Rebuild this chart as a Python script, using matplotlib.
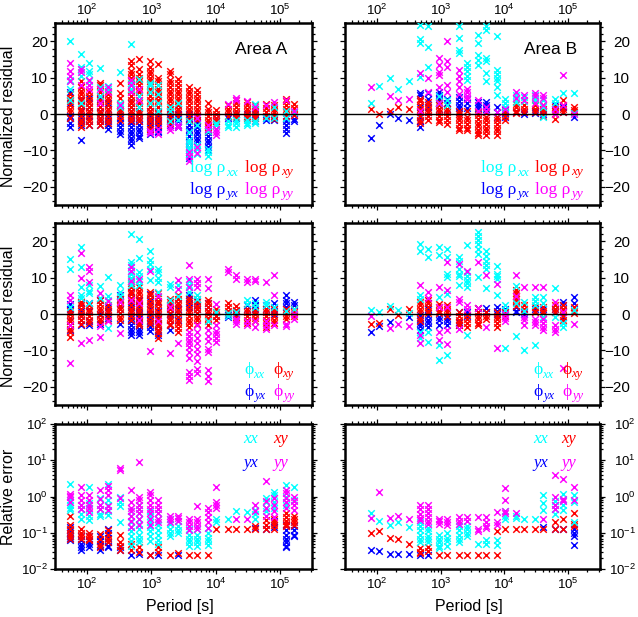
import matplotlib
matplotlib.use("Agg")
import matplotlib.pyplot as plt
from matplotlib.ticker import MultipleLocator, LogLocator, NullFormatter

plt.rcParams['font.family'] = ['Liberation Sans', 'DejaVu Sans']
plt.rcParams['mathtext.fontset'] = 'custom'
plt.rcParams['mathtext.rm'] = 'Liberation Sans'
plt.rcParams['mathtext.it'] = 'Liberation Sans:italic'
plt.rcParams['mathtext.bf'] = 'Liberation Sans:bold'

# ---------------- data ----------------
periods_A = [53.3, 80, 106.7, 160, 213.3, 320, 480, 640, 960, 1280, 1920, 2560, 3840,
             5120, 7680, 10240, 15360, 20480, 30720, 40960, 61440, 81920, 122880, 163840]
periods_B = [80, 106.7, 160, 213.3, 320, 480, 640, 960, 1280, 1920, 2560, 3840, 5120,
             7680, 10240, 15360, 20480, 30720, 40960, 61440, 81920, 122880]

components = ['xx', 'xy', 'yx', 'yy']
comp_colors = {'xx': '#00ffff', 'xy': '#ff0000', 'yx': '#0000ff', 'yy': '#ff00ff'}

# Area A, normalized residual of log rho
A_rho_xx = [[20, 9.5, 9, 7, 4], [16.5, 13, 12.5, 10.5, 3], [14, 12, 11, 9], [12.6, 7.5, 5],
            [7.8, 7], [11.6, 3, 2], [19.3, 8.5, 8, 7], [9.8, 5, 2], [8.5, 8, 6, 3], [8, 5.5, 3, 1],
            [2, 1, -2], [3, -1.5], [-2, -5, -7, -8, -9, -10, -11], [-3, -8.5, -9.5, -11],
            [-4.5, -9.5, -10.5, -11.5], [-2.5, -3], [-2, -3, -3.5], [-1.5, -2.5, -3.5],
            [-1.7, -2.5, -3], [2.9, -1.8, -2.5], [-1], [2, -1], [1, -1], [0.5]]
A_rho_xy = [[5.5, 4.5, 3.5, 2.5, 1.5, 0.5, -1],
            [9, 7.5, 6.5, 5.5, 4.5, 3.5, 2.5, 1.5, 0.5, -0.5, -1.5, -2.5, -3.5],
            [6, 5, 4, 3, 2, 1, 0, -1, -2, -3],
            [8.5, 8, 6, 5, 4, 3, 2, 1, 0, -1, -2, -3],
            [6.5, 5.5, 4.5, 3.5, 2.5, 1.5, 0.5, -0.5, -1.5, -2.5],
            [8.7, 5.7, 4.5, 2.5, 1.5, 0.5, -0.5, -1.5],
            [14.7, 13.5, 12, 11, 10, 9, 8, 7, 6, 5, 4, 3, 2, 1, 0, -1, -2],
            [15.2, 12.5, 11, 10, 9, 8, 7, 6, 5, 4, 3, 2, 1, 0, -1, -2],
            [14.5, 13, 12, 11, 10, 9, 8, 7, 6, 5, 4, 3, 2, 1, 0, -1, -2, -3, -4],
            [13.8, 10, 9, 8, 7, 6, 5, 4, 3, 2, 1, 0, -1, -2, -3],
            [12, 11, 9.5, 8.5, 7.5, 6.5, 5.5, 4.5, 3.5, 2.5, 1.5, 0.5, -0.5, -1.5, -2.5],
            [9.8, 8.5, 7.5, 6.5, 5.5, 4.5, 3.5, 2.5, 1.5, 0.5, -0.5],
            [7.5, 6.5, 5.5, 4.5, 3.5, 2.5, 1.5, 0.5, -0.5, -1.5],
            [6.6, 5.5, 4.5, 3.5, 2.5, 1.5, 0.5, -0.5, -1.5],
            [3, 1.5, 0.5, -0.5, -1.5, -2.5, -3.5, -4.5],
            [1.1, 0, -1, -2, -3], [2.5, 1.5, 0.5, -0.5], [3.8, 3, 2, 1, 0, -0.7],
            [3.4, 2.5, 1.5, 0.5, -0.5, -1], [2.5, 1.5, 0.5, -0.5, -1], [2.7, 1.7, 0.7, -0.5],
            [2.5, 1.5, 0.5, -0.5, -1.2], [4.3, 3.5, 2.5, 1.5, 0.5, -0.5], [2.7, 1.7, 0.7, -0.3]]
A_rho_yx = [[6, 3, -0.5, -1, -2.5, -3.5], [4, 2.5, 1, -1, -2, -3, -7.2], [4.5, 2, 1, -0.5, -2, -3],
            [4.3, 2, 0.5, -1, -2, -3], [3, 1.5, -1, -2, -3, -4], [1, -1, -2.5, -3.5, -4.5, -5.5],
            [3, 1, -0.5, -1.5, -2.5, -3.5, -4.5, -5.5, -6.5, -7.5, -8.5],
            [2, 0.5, -1, -2, -3, -4, -5, -6, -6.5],
            [1, -0.5, -1.5, -2.5, -3.5, -4.5, -5.5], [0.5, -0.5, -1.5, -2.5, -3.5, -4.5, -5],
            [1, 0, -1, -2, -3], [1.5, 0, -1, -2, -3, -3.5],
            [0, -1, -2, -3, -4, -5, -6, -7, -8, -9, -10, -11, -12],
            [-0.5, -1.5, -2.5, -3.5, -4.5, -5.5, -6.5, -7.5, -8.5],
            [-3, -4, -5, -6, -7, -8, -9, -10], [-1, -2], [-0.5, -1], [0, -1], [-0.7, 0],
            [0, -1, -2], [-1, -1.6], [-0.7, -1.7], [-1, -2, -3, -4, -5.3], [-1.2, -2]]
A_rho_yy = [[14, 12, 10.5, 9], [12.5, 11.5, 8], [9.5, 8, 7], [7, 3], [7.5, 6], [2.5],
            [9.5, 8, 6], [7, 4], [-5.3, -4.5], [-5.4, -4], [-4.3, -3.5], [-3.5, -3],
            [-10.4, -11.5, -13], [-9, -10.8, -1], [-4, -3], [-4, -4.8, -5.8], [2.7], [4.5, 4],
            [3.6], [2], [2.5], [3.4], [3.8], [1]]

# Area B, normalized residual of log rho
B_rho_xx = [[3.2], [7.8], [10], [7], [9], [24.6, 20.7, 19.5, 10.1], [24.2, 18.6, 12.9], [5, 3],
            [4, 2.5], [24.2, 20.9, 17.7, 16.8], [14, 13, 12, 10.5, 9.4],
            [21.8, 19.5, 16.3, 15, 13.5], [24.2, 23.2, 15.4, 14.5, 11.2, 9],
            [21.4, 12.2, 11, 10, 9, 7.5, 5.3], [4.3, 3, 2], [5.3, 4.3, 3.4], [4.8, 3.5],
            [5.3, 4.5, 3.9], [3.9, 2, -0.7], [4.3, 3], [5.7], [5.9, 0.2]]
B_rho_xy = [[1.3], [0], [1], [2], [1.3], [4.3, 3.5, 2.5, 1.5, 0.5, -0.5, -1.5, -2.5],
            [3.4, 2.5, 1.5, 0.5, -0.5, -1.7], [3.4, 2.5, 1.5, 0.5, -0.5, -1.5, -2.1],
            [2.5, 1.5, 0.5, -0.5, -1.5, -2.6], [1, 0, -0.7, -1.7, -2.7, -3.7, -4.4],
            [1, -0.7, -1.7, -2.7, -3.7, -4.4], [0.5, -0.3, -1.3, -2.3, -3.3, -4.3, -5.3, -5.8],
            [0.5, -0.7, -1.7, -2.7, -3.7, -4.7, -5.8], [-0.7, -1.7, -2.7, -3.7, -4.7, -5.8],
            [0.5, -0.5, -1.7], [2.9, 2, 1, 0.2], [2.5, 1.5, 0.5], [2.5, 1.5, 0.5],
            [2.5, 1.5, 0.5, -0.5], [2, 1, 0, -1.2], [3.9, 2.5, 1.5, 0.5], [2, 1.2, 0.6]]
B_rho_yx = [[-6.7], [-2.9], [0], [-1], [-1.7], [5.7, 5.2, 2, -0.7, -2, -3.5], [5.7, 4.3, 2, 0.5],
            [6.2, 5.3, 4.3, 3, 1.5], [4.3, 3, 1.5], [4.8, 3.5, 2.5, 1.6, 0.5], [4.3, 3, 1.6],
            [3.4, 2.5, 1.6], [3.4, 2.5, 1.5, 0.6], [2, 0.5, -0.7], [1.1, 0.2, -0.7], [0.6],
            [0.6, 0], [1, 0.3], [1, 0], [2.5, 1.5], [2, 0.5], [-0.7]]
B_rho_yy = [[7.5], [], [5], [3.8], [4.3], [11.2, 1], [9.9, 6], [15.4, 13.5, 11.7, 10.8, 7.5, 3],
            [20, 14.5, 13, 8, 6], [12.2, 10.5, 9, 7.6, 5.5], [7, 6, 5, 4.3], [4, 1], [2, 1],
            [0.5], [1.5], [6.2, 4.5], [5.3, 4], [5.7, 5, 3], [5.3, 4.5, 2.5], [1.5, 0],
            [10.8, 2.5], [0]]

# Area A, normalized residual of phase
A_phi_xx = [[15.3, 12.3, 2], [18.4, 13, 7.5, 5.2, 4.5], [7.9, 6.5, 5.7, 3], [7.8, 4.5],
            [10.2, 5, 4, -3.9], [7.9, 6, 5], [22.1, 14.3, 13.4, 12, 11, 10, 8.9, 8],
            [20.7, 15.4, 11.6, 10.5, 9, 8], [17.3, 14.8, 13.7, 12.5, 9.5],
            [12.5, 11.5, 10, 8.9, 6], [8.4, 7.5, 4], [7.9, 5], [9, 8, 7.5, 6], [5.2, 4.3], [-2],
            [0.5], [0.2, -0.5], [0.5], [3.8, 2.9], [3, 2], [3.4, 2.5], [2], [1], [1.5]]
A_phi_xy = [[1, 0, -1, -2, -3, -4, -5, -6.2], [3.4, 2.4, 1.4, 0.4, -0.6, -1.6, -2.6],
            [2.5, 1.5, 0.5, -0.5, -1.5, -2.5], [3.8, 2.8, 1.8, 0.8, -0.2, -1.2, -2.2],
            [2.5, 1.5, 0.5, -0.5, -1.5], [4.3, 3.3, 2.3, 1.3, 0.3, -0.7, -1.6],
            [9.8, 8.5, 7.5, 6.5, 5.5, 4.5, 3.5, 2.5, 1.5, 0.5, -0.5, -1.5],
            [7.5, 6.5, 5.5, 4.5, 3.5, 2.5, 1.5, 0.5, -0.5, -1.5, -2.5, -3],
            [6.2, 5.2, 4.2, 3.2, 2.2, 1.2, 0.2, -0.8, -1.8, -2.8],
            [5.7, 4.7, 3.7, 2.7, 1.7, 0.7, -0.3, -1.3, -2.3, -3.3, -4.3, -5.3, -6.7],
            [4.3, 3.3, 2.3, 1.3, 0.3, -0.7, -1.7, -2.7, -3],
            [5.2, 4.2, 3.2, 2.2, 1.2, 0.2, -0.8, -1.8, -2.8, -3.8, -4.8],
            [4.5, 3.5, 2.5, 1.5, 0.5, -0.5, -1.5, -2.5, -3.5],
            [4.3, 3.3, 2.3, 1.3, 0.3, -0.7, -1.7, -2.7], [4, 3, 2, 1, 0, -1, -2, -3],
            [1.5, 0.5, -0.5, -1.5], [3, 2, 1, 0.3], [2.2, 1.2, 0.2, -0.8],
            [1.5, 0.5, -0.5, -1.5, -2.5], [2, 1, 0, -1, -2], [1.5, 0.5, -0.5, -1.5, -2.5, -3.5],
            [1.5, 0.5, -0.5, -1.5, -2.5], [1.5, 0.5, -0.5, -1.2], [1.5, 0.5, -0.5]]
A_phi_yx = [[2.9, 1.5, -2, -4.4], [3, 1, -1.5, -3], [3, 1, -2, -3], [3.8, 0, -2.6], [2, 1, -1],
            [5.2, 4.3, 1.5, -2.6], [6, 4.3, 3, 2, 1, -1, -2, -3, -4, -5, -5.8],
            [4, 2, 0, -1, -2, -3, -4, -5, -5.8], [5.5, 3.5, 1.5, 0, -1.5, -2.5, -3.5, -4.5],
            [3.4, 1, -1, -3, -4.5, -5.8], [2.5, 0, -1.5, -3, -4.4], [3, 1.5, -1.5],
            [5.2, 4.2, 3, 2], [3.5, 2.5, 1.5], [3, 1], [-0.5], [-0.3, -0.8], [0, 1], [2.5, 1.5],
            [3.8, 2.5, 1.5], [2.5, 1.5], [3, 2, 1, 0], [5.2, 4, 3, 2], [3.4, 2.5]]
A_phi_yy = [[5.2, 4, -3, -13.5], [16.9, 10, -8], [13, 12, 8.9, -7.1], [5.7, -3.3, -6.2],
            [3.5, -2], [3.4, -5.3], [13, 12, 9, 4], [9.8, 3, -1.5], [12, -10.1], [-2, 5],
            [-10.8, 2], [9.3, 7, -8],
            [13.4, 9.8, 7.5, -4.8, -6, -7, -8, -9, -10.5, -12, -16, -17, -18],
            [9.8, 8.5, 7.5, -3, -5, -6.5, -8, -9.5, -11, -13, -15, -16.3],
            [9.8, 7.2, -4.4, -6, -7.5, -9.5, -10.5, -15.5, -17, -18.5],
            [2.9, -3, -4.5, -5.5, -6.5, -7.6], [12.5, 11.6], [10.7, 9.8, -1.2, -2, -2.6],
            [9.8, 8.8, -2, -3], [9.8, 9, -2, -3.5], [8.9, -2, -3, -4], [10.9, 5.4, -3],
            [-2.6, -3.2], [-1.2, 0]]

# Area B, normalized residual of phase
B_phi_xx = [[1.1], [0.6], [2.3], [1.1], [0.2], [19.4, 17.3, 5.2, 4.3, -4.8, -6.7],
            [18, 15.7, -4.8, -7.6], [18.4, 16.3, 4.7, -8.5, -12.6],
            [17.8, 15.7, 11.1, 10.2, 5.5, -11.2], [15.7, 14.5, 12.5, 11, 10.5, 7.9],
            [18.9, 11.6, 10.5, 9.5, 8.5, 7.5, -5.6], [22.5, 21.5, 20.5, 19.4, 18, 16.5, 10.2],
            [17.3, 16, 14.5, 13.5, 12.5, 7.2], [13.2, 11.1, 10.5, 9.8, 5.4], [2.5, 1.1, -9.2],
            [7.8, 3, -6], [3.4, 1, -9.9], [4.7, 3.7, 2.5, -8.5], [4.7, 3, -0.7], [7.2, -0.7],
            [-3.5, -2.5], [1.1]]
B_phi_xy = [[-2.6], [-2.3], [1.4], [-0.3], [1.4], [3.4, 2.4, 1.4, 0.6, -1, -2], [4, 3, 2, 1, 0.2],
            [2.9, 1.9, 0.9, 0.2], [2.5, 1.5, 0.5, -0.5], [0.5, -0.5, -1.5, -2.5, -3],
            [-0.3, -1.3, -2.3, -3.5], [1.6, 0.6, -0.4, -1.4, -2.4, -3], [0.6, -0.4, -1.4],
            [0.6, -0.4, -1.4, -2.4, -3.5], [0.5, -0.5], [6.6, 5.8, 5, 4.3, 3.3, 2.3], [2.5, 1.5],
            [2, 1, 0.5], [2, 1, 0.3], [2.5, 1.5, 0.5], [2.5, 1.5, 0.5, -0.5, -1.6], [2, 1, 0.2]]
B_phi_yx = [[-5], [-3.2], [-2.1], [], [-0.9], [-0.3, -1.3, -2.3, -3.3, -4.4],
            [3, 1.5, -0.5, -1.5, -2.5, -3.5], [-0.7, -1.7, -3], [-1, -2, -3], [-2.1, -3, 0.5],
            [0.6, -0.5], [1.6, 0.6], [1.6, 0.5], [2, 1, 0], [1.5, 0.5], [2, 1, 0.5], [0.6, 0],
            [1.5], [1.5], [0.6, 1.5], [3.4, 2.5, -0.7], [4.7, 3.2]]
B_phi_yy = [[-0.5], [], [-3.7], [-2.7], [-3.2], [7.9, -5.8, -8], [6.1, 4.5], [7.5, -4.8, -7.1, 2],
            [14.3, 6.6, -4.4, -8.3, 2], [13.9, 4.3, 3.4, -4.1], [12, 2.5, 1.5], [14.3, 1.8],
            [10.7, -3.5], [8.4, -9.2], [0, -1, -2], [10.7, 5], [7.5, -0.7, -1.7, -3],
            [7.5, -1.2, -2.2, -3], [7.5, -1.2, -2.5, -3.5, -4.4], [3.4, -3, -4, -4.8],
            [0.5, -14.9], [-2.6]]

# Area A, relative error
A_err_xx = [[2.3, 0.8, 0.6, 0.5, 0.43], [0.6, 0.45, 0.33, 0.25], [1.8, 0.65, 0.45, 0.3, 0.23],
            [0.9, 0.6, 0.45, 0.33, 0.29], [2.2, 0.8, 0.6, 0.4, 0.32], [1.0, 0.7, 0.55, 0.2],
            [0.4, 0.3, 0.2, 0.15, 0.11, 0.08, 0.06, 0.045],
            [0.6, 0.35, 0.25, 0.18, 0.13, 0.09, 0.07, 0.055],
            [0.4, 0.3, 0.2, 0.15, 0.11, 0.08, 0.06], [0.35, 0.25, 0.17, 0.12, 0.09, 0.065, 0.05],
            [0.25, 0.18, 0.13, 0.1, 0.08], [0.22, 0.16, 0.12, 0.1],
            [0.13, 0.09, 0.07, 0.055, 0.045], [0.13, 0.09, 0.07, 0.055, 0.045],
            [0.14, 0.1, 0.075, 0.06, 0.046], [0.25, 0.2], [0.25], [0.4], [0.38],
            [0.43, 0.33, 0.25], [0.9, 0.7, 0.5, 0.4], [1.35, 1.1, 0.7, 0.5], [2.1, 1.0, 0.6],
            [1.9, 0.8]]
A_err_xy = [[0.3, 0.17, 0.13, 0.1, 0.085, 0.07], [0.13, 0.1, 0.085, 0.07],
            [0.1, 0.085, 0.07, 0.065], [0.095, 0.07, 0.05, 0.04], [0.12, 0.09, 0.07, 0.055],
            [0.087, 0.055, 0.045, 0.035], [0.05, 0.035], [0.04, 0.03], [0.025], [0.04, 0.03],
            [0.025], [0.028], [0.025], [0.025], [0.025], [0.13], [0.13], [0.13], [0.13],
            [0.16, 0.13], [0.23, 0.17, 0.13], [0.25, 0.2, 0.17, 0.13],
            [0.35, 0.28, 0.22, 0.18, 0.16], [0.3, 0.25, 0.2, 0.17]]
A_err_yx = [[0.15, 0.12, 0.1, 0.085, 0.075, 0.065], [0.085, 0.065, 0.05, 0.04, 0.035],
            [0.08, 0.06, 0.05, 0.04], [0.08, 0.06, 0.045, 0.035],
            [0.13, 0.1, 0.075, 0.055, 0.045, 0.04], [0.04, 0.033], [0.025], [0.026], [0.025],
            [0.025], [], [0.025], [], [], [], [], [], [], [], [0.14], [0.13], [0.22, 0.15],
            [0.17, 0.12, 0.09, 0.07, 0.055, 0.045, 0.04], [0.16, 0.12, 0.09, 0.08]]
A_err_yy = [[1.2, 1.05, 0.95, 0.7], [1.9, 1.1, 0.8, 0.6, 0.45], [1.1, 0.8, 0.6, 0.5, 0.38],
            [1.55, 0.85, 0.6, 0.45], [2.0, 1.5, 1.1, 0.55, 0.43], [6.3, 5.5, 0.9],
            [1.5, 0.7, 0.5, 0.4, 0.3, 0.22, 0.15], [9.1, 1.0, 0.8, 0.6, 0.45, 0.35, 0.25, 0.17],
            [1.35, 1.1, 0.8, 0.6, 0.45, 0.35, 0.25, 0.17], [0.8, 0.6, 0.45, 0.35, 0.25, 0.2],
            [0.3, 0.25, 0.2], [0.3, 0.26, 0.22], [0.25, 0.2, 0.16, 0.12],
            [0.55, 0.25, 0.2, 0.16, 0.13], [0.5, 0.38, 0.28, 0.2, 0.14], [1.8, 0.7, 0.6, 0.5],
            [], [0.25], [0.25], [0.58, 0.4], [2.75, 0.75, 0.5, 0.3], [0.9, 0.6, 0.4, 0.28],
            [1.5, 1.3, 0.9, 0.7, 0.5], [1.0, 0.75, 0.6, 0.43]]

# Area B, relative error
B_err_xx = [[0.36], [0.21], [0.166], [0.2], [0.15], [0.2, 0.16, 0.12, 0.09, 0.07, 0.055],
            [0.14, 0.11, 0.085, 0.07, 0.055], [0.09, 0.07, 0.055, 0.045, 0.038],
            [0.1, 0.075, 0.06, 0.045], [0.16, 0.12, 0.09, 0.07, 0.058], [0.16, 0.13, 0.1, 0.08],
            [0.05], [0.065, 0.05], [0.064, 0.047], [0.4, 0.3, 0.25], [0.3, 0.26], [0.25],
            [0.25], [1.1, 0.65, 0.43], [0.75, 0.6, 0.45, 0.33], [1.2, 0.8, 0.6, 0.43],
            [1.1, 0.7, 0.2]]
B_err_xy = [[0.1], [0.11], [0.074], [0.069], [0.049], [0.038, 0.03, 0.028], [0.04, 0.032],
            [0.025], [0.025], [0.025], [0.025], [0.025], [0.025], [0.11, 0.025], [0.13], [0.13],
            [0.13], [0.13], [0.13], [0.2, 0.13], [0.25, 0.13], [0.35, 0.18, 0.16]]
B_err_yx = [[0.034], [0.032], [0.026], [0.026], [0.026], [0.025], [0.025], [], [], [], [], [],
            [], [], [], [], [], [], [0.15], [0.13], [0.13], [0.13, 0.1, 0.08, 0.046]]
B_err_yy = [[0.26], [1.37], [0.26], [0.29], [0.25], [0.59, 0.45, 0.33, 0.26, 0.23],
            [0.59, 0.45, 0.35, 0.27, 0.22, 0.18], [0.25, 0.21, 0.18], [0.24, 0.2, 0.17],
            [0.28, 0.22, 0.18], [0.28, 0.22], [0.27, 0.13, 0.11], [0.27, 0.2, 0.16, 0.14],
            [0.38, 0.2, 0.17], [1.7, 0.8, 0.4, 0.35], [0.36], [], [], [0.25],
            [3.9, 1.0, 0.6, 0.45], [3.0, 0.85, 0.75], [1.9, 0.8]]

area_labels = ['Area A', 'Area B']
rho_legend = ['log ρ', 'log ρ', 'log ρ', 'log ρ']
phi_legend = ['ϕ', 'ϕ', 'ϕ', 'ϕ']

panels = {
    (0, 0): (periods_A, {'xx': A_rho_xx, 'xy': A_rho_xy, 'yx': A_rho_yx, 'yy': A_rho_yy}),
    (0, 1): (periods_B, {'xx': B_rho_xx, 'xy': B_rho_xy, 'yx': B_rho_yx, 'yy': B_rho_yy}),
    (1, 0): (periods_A, {'xx': A_phi_xx, 'xy': A_phi_xy, 'yx': A_phi_yx, 'yy': A_phi_yy}),
    (1, 1): (periods_B, {'xx': B_phi_xx, 'xy': B_phi_xy, 'yx': B_phi_yx, 'yy': B_phi_yy}),
    (2, 0): (periods_A, {'xx': A_err_xx, 'xy': A_err_xy, 'yx': A_err_yx, 'yy': A_err_yy}),
    (2, 1): (periods_B, {'xx': B_err_xx, 'xy': B_err_xy, 'yx': B_err_yx, 'yy': B_err_yy}),
}

# ---------------- layout ----------------
W, H = 638, 617
fig = plt.figure(figsize=(W / 100, H / 100), dpi=100)

col_px = [(55, 312), (345, 600)]
row_px = [(23.3, 205), (223.3, 405), (424, 569.3)]

def frac_rect(c, r):
    x0, x1 = col_px[c]
    y0, y1 = row_px[r]
    return [x0 / W, 1 - y1 / H, (x1 - x0) / W, (y1 - y0) / H]

draw_order = ['yx', 'xy', 'xx', 'yy']
axes = {}
for (r, c), (periods, data) in panels.items():
    ax = fig.add_axes(frac_rect(c, r))
    axes[(r, c)] = ax
    for comp in draw_order:
        vals = data[comp]
        assert len(vals) == len(periods), (r, c, comp, len(vals))
        xs, ys = [], []
        for p, vlist in zip(periods, vals):
            xs.extend([p] * len(vlist))
            ys.extend(vlist)
        ax.scatter(xs, ys, marker='x', s=22, linewidths=1.05, color=comp_colors[comp],
                   zorder=3)
    ax.set_xscale('log')
    ax.set_xlim(10 ** 1.5, 10 ** 5.5)
    ax.xaxis.set_major_locator(LogLocator(base=10, numticks=20))
    ax.xaxis.set_minor_locator(LogLocator(base=10, subs=range(2, 10), numticks=20))
    ax.xaxis.set_minor_formatter(NullFormatter())
    if r < 2:
        ax.set_ylim(-25, 25)
        ax.yaxis.set_major_locator(MultipleLocator(10))
        ax.yaxis.set_minor_locator(MultipleLocator(2))
        ax.axhline(0, color='black', lw=1.0, zorder=5)
        ysize = 11
    else:
        ax.set_yscale('log')
        ax.set_ylim(1e-2, 1e2)
        ax.yaxis.set_major_locator(LogLocator(base=10, numticks=20))
        ax.yaxis.set_minor_locator(LogLocator(base=10, subs=range(2, 10), numticks=20))
        ax.yaxis.set_minor_formatter(NullFormatter())
        ysize = 9.5
    ax.tick_params(which='both', direction='out', top=True, bottom=True, left=True, right=True,
                   labeltop=(r == 0), labelbottom=(r == 2), labelleft=(c == 0),
                   labelright=(c == 1), width=0.9, color='black')
    ax.tick_params(axis='x', labelsize=9.5)
    ax.tick_params(axis='y', labelsize=ysize)
    ax.tick_params(which='major', length=3.6, pad=1.5)
    ax.tick_params(which='minor', length=2)
    if r == 0:
        ax.tick_params(axis='x', which='major', pad=0.3)
    for sp in ax.spines.values():
        sp.set_linewidth(1.8)

# y labels
fig.text(9 / W, 1 - 116 / H, 'Normalized residual', rotation=90, ha='center', va='center',
         fontsize=11.5)
fig.text(9 / W, 1 - 316 / H, 'Normalized residual', rotation=90, ha='center', va='center',
         fontsize=11.5)
fig.text(9 / W, 1 - 497 / H, 'Relative error', rotation=90, ha='center', va='center',
         fontsize=11.5)
for c in range(2):
    xc = (col_px[c][0] + col_px[c][1]) / 2 - 4
    fig.text(xc / W, 1 - 611 / H, 'Period [s]', ha='center', va='baseline', fontsize=11.5)

# area labels
fig.text(287 / W, 1 - 54 / H, area_labels[0], ha='right', va='baseline', fontsize=12.5)
fig.text(577 / W, 1 - 54 / H, area_labels[1], ha='right', va='baseline', fontsize=12.5)

# legends
serif = 'Liberation Serif'
fig.canvas.draw()
renderer = fig.canvas.get_renderer()

def legend_entry(x, y, main, sub, color, size, subsize):
    t = fig.text(x / W, 1 - y / H, main, ha='left', va='baseline', fontsize=size,
                 family=serif, color=color, zorder=6)
    bb = t.get_window_extent(renderer=renderer)
    fig.text((bb.x1 + 0.3) / W, (1 - y / H) - 3.5 / H, sub, ha='left', va='baseline',
             fontsize=subsize, family=serif, style='italic', color=color, zorder=6)

rho_pos = {0: [(190, 172), (245, 172), (190, 194), (245, 194)],
           1: [(481, 172), (535, 172), (481, 194), (535, 194)]}
phi_pos = {0: [(244, 374), (273, 374), (244, 396), (273, 396)],
           1: [(533, 374), (562, 374), (533, 396), (562, 396)]}
err_pos = {0: [(243, 443), (273, 443), (243, 467), (273, 467)],
           1: [(533, 443), (561, 443), (533, 467), (561, 467)]}
for c in range(2):
    for k, comp in enumerate(components):
        x, y = rho_pos[c][k]
        legend_entry(x, y, rho_legend[k], comp, comp_colors[comp], 12.5, 9.5)
        x, y = phi_pos[c][k]
        legend_entry(x, y, phi_legend[k], comp, comp_colors[comp], 12.5, 9)
        x, y = err_pos[c][k]
        fig.text(x / W, 1 - y / H, comp, ha='left', va='baseline', fontsize=12,
                 family=serif, style='italic', color=comp_colors[comp])

# right-side labels right-aligned like the original
for r in range(3):
    ax = axes[(r, 1)]
    rx = 630 if r < 2 else 636
    pad_px = rx - 600 - 3.6 * 100 / 72
    ax.tick_params(axis='y', which='major', pad=pad_px * 72 / 100)
    for t in ax.yaxis.get_major_ticks():
        t.label2.set_horizontalalignment('right')

fig.savefig('out.png', dpi=100)
